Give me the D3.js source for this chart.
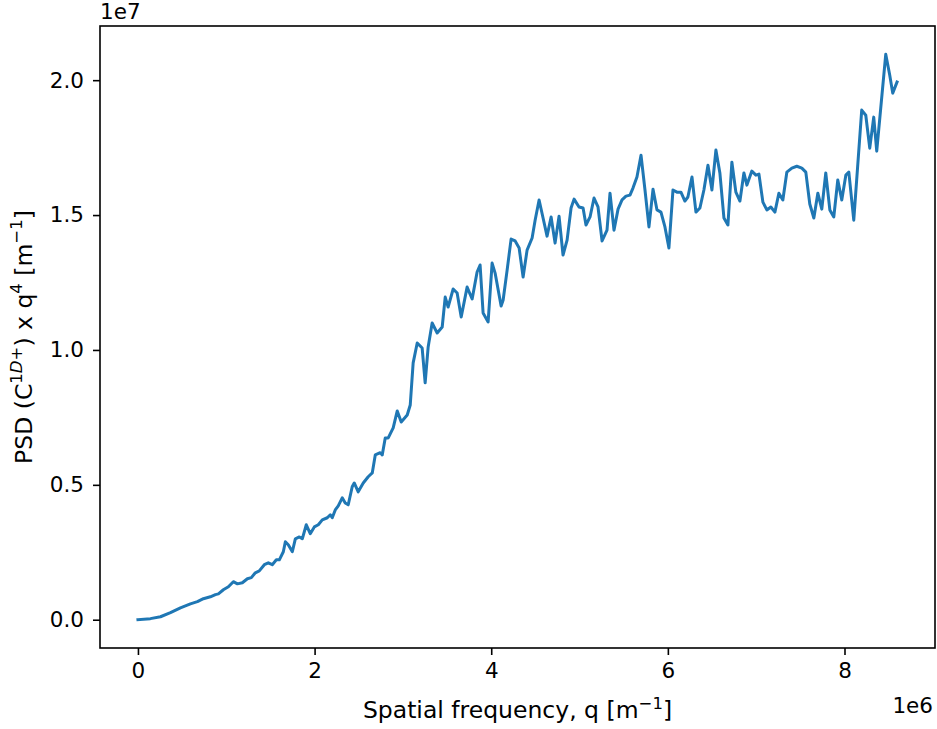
<!DOCTYPE html>
<html>
<head>
<meta charset="utf-8">
<script src="https://cdn.jsdelivr.net/npm/d3@7"></script>
<style>
  html, body { margin: 0; padding: 0; background: #fff; }
  svg { display: block; font-family: "DejaVu Sans", sans-serif; }
</style>
</head>
<body>
<svg id="chart" width="937" height="729"></svg>
<script>
// Spatial frequency q, in units of 1e6 m^-1
const q = [
  0, 0.141, 0.255, 0.368, 0.481, 0.594, 0.673, 0.741, 0.820, 0.877,
  0.911, 0.967, 1.024, 1.080, 1.126, 1.182, 1.239, 1.284, 1.329, 1.374,
  1.431, 1.476, 1.521, 1.567, 1.601, 1.646, 1.669, 1.702, 1.748, 1.782,
  1.827, 1.861, 1.906, 1.951, 1.997, 2.042, 2.087, 2.144, 2.178, 2.200,
  2.234, 2.268, 2.313, 2.347, 2.381, 2.426, 2.449, 2.494, 2.551, 2.607,
  2.653, 2.687, 2.743, 2.766, 2.800, 2.834, 2.890, 2.936, 2.981, 3.049,
  3.083, 3.116, 3.162, 3.218, 3.252, 3.286, 3.331, 3.388, 3.445, 3.479,
  3.512, 3.569, 3.614, 3.660, 3.727, 3.784, 3.840, 3.874, 3.908, 3.965,
  4.010, 4.044, 4.112, 4.135, 4.180, 4.225, 4.271, 4.316, 4.361, 4.406,
  4.463, 4.497, 4.542, 4.587, 4.632, 4.678, 4.723, 4.768, 4.813, 4.859,
  4.904, 4.938, 4.994, 5.040, 5.073, 5.119, 5.164, 5.209, 5.255, 5.311,
  5.345, 5.390, 5.436, 5.481, 5.526, 5.571, 5.605, 5.650, 5.696, 5.741,
  5.786, 5.832, 5.877, 5.922, 5.967, 6.012, 6.058, 6.103, 6.148, 6.193,
  6.227, 6.273, 6.318, 6.363, 6.408, 6.454, 6.499, 6.544, 6.589, 6.635,
  6.680, 6.725, 6.770, 6.816, 6.861, 6.895, 6.951, 6.997, 7.031, 7.076,
  7.121, 7.166, 7.212, 7.257, 7.302, 7.347, 7.404, 7.460, 7.517, 7.562,
  7.607, 7.653, 7.698, 7.743, 7.788, 7.834, 7.879, 7.924, 7.969, 8.015,
  8.049, 8.105, 8.195, 8.241, 8.286, 8.331, 8.365, 8.467, 8.512, 8.546,
  8.595
];

// PSD (C1D+) x q^4, in units of 1e7 m^-1
const psd = [
  0.000, 0.004, 0.011, 0.026, 0.044, 0.059, 0.067, 0.078, 0.085, 0.093,
  0.096, 0.111, 0.122, 0.141, 0.133, 0.137, 0.152, 0.156, 0.174, 0.181,
  0.204, 0.211, 0.204, 0.222, 0.222, 0.252, 0.289, 0.278, 0.252, 0.300,
  0.307, 0.300, 0.352, 0.319, 0.344, 0.352, 0.370, 0.378, 0.389, 0.378,
  0.407, 0.422, 0.452, 0.433, 0.426, 0.493, 0.507, 0.474, 0.507, 0.530,
  0.544, 0.611, 0.619, 0.611, 0.674, 0.674, 0.711, 0.774, 0.733, 0.759,
  0.796, 0.952, 1.026, 1.007, 0.878, 1.011, 1.100, 1.063, 1.085, 1.196,
  1.159, 1.226, 1.211, 1.122, 1.233, 1.189, 1.289, 1.315, 1.137, 1.104,
  1.322, 1.285, 1.163, 1.185, 1.296, 1.411, 1.404, 1.378, 1.270, 1.370,
  1.415, 1.481, 1.556, 1.489, 1.422, 1.493, 1.396, 1.496, 1.352, 1.407,
  1.526, 1.559, 1.530, 1.526, 1.463, 1.493, 1.563, 1.530, 1.404, 1.444,
  1.581, 1.444, 1.522, 1.556, 1.570, 1.574, 1.600, 1.641, 1.722, 1.593,
  1.456, 1.596, 1.519, 1.511, 1.456, 1.378, 1.593, 1.585, 1.585, 1.552,
  1.567, 1.641, 1.511, 1.526, 1.593, 1.685, 1.593, 1.741, 1.656, 1.489,
  1.463, 1.696, 1.585, 1.552, 1.656, 1.611, 1.663, 1.648, 1.652, 1.548,
  1.519, 1.530, 1.511, 1.581, 1.556, 1.659, 1.674, 1.681, 1.674, 1.659,
  1.541, 1.489, 1.581, 1.522, 1.656, 1.519, 1.493, 1.630, 1.556, 1.648,
  1.659, 1.481, 1.889, 1.870, 1.748, 1.863, 1.737, 2.096, 2.019, 1.952,
  1.993
];

const xTicks = [0, 2, 4, 6, 8];
const yTicks = [0.0, 0.5, 1.0, 1.5, 2.0];
const xOffsetLabel = "1e6";
const yOffsetLabel = "1e7";
const lineColor = "#1f77b4";

const plot = { left: 100, right: 935, top: 26, bottom: 648 };
const tickFont = 21.5;
const labelFont = 23.5;
const supFont = 16.5;

const svg = d3.select("#chart");

// Data extent padded by 5% on each side
const pad = (lo, hi) => { const m = (hi - lo) * 0.05; return [lo - m, hi + m]; };
const x = d3.scaleLinear().domain(pad(d3.min(q), d3.max(q))).range([plot.left, plot.right]);
const y = d3.scaleLinear().domain(pad(d3.min(psd), d3.max(psd))).range([plot.bottom, plot.top]);

const data = q.map((v, i) => ({ q: v, p: psd[i] }));

// Curve
svg.append("path")
  .datum(data)
  .attr("fill", "none")
  .attr("stroke", lineColor)
  .attr("stroke-width", 3)
  .attr("stroke-linejoin", "round")
  .attr("stroke-linecap", "square")
  .attr("d", d3.line().x(d => x(d.q)).y(d => y(d.p)));

// Axes
const xAxis = d3.axisBottom(x).tickValues(xTicks).tickFormat(d3.format("d"))
  .tickSize(7).tickSizeOuter(0).tickPadding(8);
const yAxis = d3.axisLeft(y).tickValues(yTicks).tickFormat(d3.format(".1f"))
  .tickSize(7).tickSizeOuter(0).tickPadding(9);

const gx = svg.append("g").attr("transform", `translate(0,${plot.bottom})`).call(xAxis);
const gy = svg.append("g").attr("transform", `translate(${plot.left},0)`).call(yAxis);
[gx, gy].forEach(g => {
  g.select(".domain").remove();
  g.selectAll(".tick line").attr("stroke", "#000").attr("stroke-width", 1.6);
  g.selectAll(".tick text")
    .attr("fill", "#000")
    .style("font-family", "'DejaVu Sans', sans-serif")
    .style("font-size", tickFont + "px");
});

// Frame
svg.append("rect")
  .attr("x", plot.left).attr("y", plot.top)
  .attr("width", plot.right - plot.left).attr("height", plot.bottom - plot.top)
  .attr("fill", "none").attr("stroke", "#000").attr("stroke-width", 1.6);

// Offset (scale) labels
svg.append("text")
  .attr("x", plot.left).attr("y", 19)
  .attr("font-size", tickFont).attr("fill", "#000")
  .text(yOffsetLabel);
svg.append("text")
  .attr("x", plot.right - 2).attr("y", 713)
  .attr("text-anchor", "end")
  .attr("font-size", tickFont).attr("fill", "#000")
  .text(xOffsetLabel);

// X label
const xl = svg.append("text")
  .attr("x", (plot.left + plot.right) / 2).attr("y", 718)
  .attr("text-anchor", "middle")
  .attr("font-size", labelFont).attr("fill", "#000");
xl.append("tspan").text("Spatial frequency, q [m");
xl.append("tspan").attr("dy", -9).attr("font-size", supFont).text("\u22121");
xl.append("tspan").attr("dy", 9).text("]");

// Y label
const yl = svg.append("text")
  .attr("transform", `translate(32,${(plot.top + plot.bottom) / 2}) rotate(-90)`)
  .attr("text-anchor", "middle")
  .attr("font-size", labelFont).attr("fill", "#000");
yl.append("tspan").text("PSD (C");
yl.append("tspan").attr("dy", -10).attr("font-size", supFont).text("1");
yl.append("tspan").attr("font-size", supFont).attr("font-style", "italic").text("D");
yl.append("tspan").attr("font-size", supFont).text("+");
yl.append("tspan").attr("dy", 10).text(") x q");
yl.append("tspan").attr("dy", -10).attr("font-size", supFont).text("4");
yl.append("tspan").attr("dy", 10).text(" [m");
yl.append("tspan").attr("dy", -10).attr("font-size", supFont).text("\u22121");
yl.append("tspan").attr("dy", 10).text("]");
</script>
</body>
</html>
